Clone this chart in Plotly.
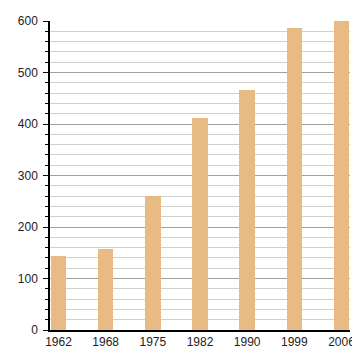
import plotly.graph_objects as go

years = ["1962", "1968", "1975", "1982", "1990", "1999", "2006"]
values = [144, 158, 260, 412, 466, 586, 600]

fig = go.Figure(go.Bar(
    x=years, y=values, marker=dict(color="#e8bb84", line=dict(width=0)), width=0.33,
    cliponaxis=False,
))

# page body has an 8px margin; size the figure to compensate
fig.update_layout(
    width=352, height=352,
    margin=dict(l=42, r=10, t=13, b=30),
    paper_bgcolor="white", plot_bgcolor="white",
    font=dict(family="Liberation Sans, Arial, sans-serif", size=12, color="#333"),
    showlegend=False,
    bargap=0,
)
fig.update_xaxes(
    type="category", range=[-0.18, 6.18], automargin=False,
    showline=True, linecolor="black", linewidth=1.5,
    ticks="", showgrid=False, tickfont=dict(size=12, color="#222"),
)
fig.update_yaxes(
    range=[0, 600], dtick=100, tick0=0, automargin=False,
    showline=True, linecolor="black", linewidth=1.5,
    ticks="outside", ticklen=5, tickcolor="black", tickwidth=1,
    ticklabelstandoff=3,
    showgrid=True, gridcolor="#a0a0a0", gridwidth=1,
    zeroline=False,
    minor=dict(dtick=20, showgrid=True, gridcolor="#d0d0d0", gridwidth=1,
               ticks="outside", ticklen=3, tickcolor="black"),
    tickfont=dict(size=12, color="#222"),
)

fig.write_html("out.html")
